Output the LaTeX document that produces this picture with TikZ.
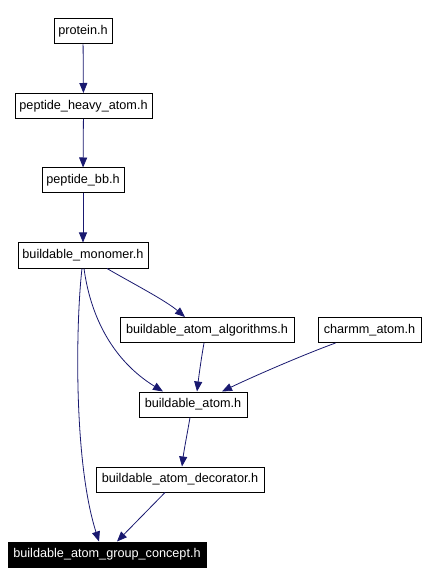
\documentclass[tikz,border=0pt]{standalone}
\usepackage{fontspec}
\setmainfont{Liberation Sans}
\usetikzlibrary{arrows.meta}
\definecolor{edgeblue}{HTML}{191970}
\begin{document}
\begin{tikzpicture}[x=0.75pt,y=-0.75pt,
  box/.style={draw=black,fill=white,line width=0.75pt,inner sep=0pt,minimum height=18.75pt,font=\fontsize{9.5}{11}\selectfont,text=black},
  hl/.style={box,fill=black,text=white},
  edge/.style={draw=edgeblue,line width=0.6pt,-{Triangle[length=7.5pt,width=6pt]}}]
\useasboundingbox (0,0) rectangle (426,584);
\fill[white] (0,0) rectangle (426,584);
\node[box,minimum width=43.5pt] (prot) at (83,31.5) {protein.h};
\node[box,minimum width=102.75pt] (pha) at (83.5,106) {peptide\_heavy\_atom.h};
\node[box,minimum width=61.5pt] (pbb) at (83,180.5) {peptide\_bb.h};
\node[box,minimum width=97.5pt] (mono) at (83,255.5) {buildable\_monomer.h};
\node[box,minimum width=130.5pt] (alg) at (207,330) {buildable\_atom\_algorithms.h};
\node[box,minimum width=77.25pt] (charmm) at (369.5,330) {charmm\_atom.h};
\node[box,minimum width=81pt] (atom) at (193,404.5) {buildable\_atom.h};
\node[box,minimum width=126pt] (deco) at (180,479.5) {buildable\_atom\_decorator.h};
\node[hl,minimum width=148.5pt] (grp) at (107,554.5) {buildable\_atom\_group\_concept.h};
\draw[edge] (prot) -- (pha);
\draw[edge] (pha) -- (pbb);
\draw[edge] (pbb) -- (mono);
\draw[edge] ([xshift=-0.75pt]mono.south) .. controls (76,320) and (73,460) .. ([xshift=-6pt]grp.north);
\draw[edge] ([xshift=0.75pt]mono.south) .. controls (91,320) and (115,362) .. ([xshift=-22.5pt]atom.north);
\draw[edge] ([xshift=18pt]mono.south) .. controls (130,282) and (165,300) .. ([xshift=-16.5pt]alg.north);
\draw[edge] ([xshift=-2.25pt]alg.south) .. controls (201,360) and (199,375) .. ([xshift=3pt]atom.north);
\draw[edge] ([xshift=-25.5pt]charmm.south) .. controls (300,356) and (250,378) .. ([xshift=21.75pt]atom.north);
\draw[edge] ([xshift=-2.25pt]atom.south) .. controls (187,435) and (184,450) .. ([xshift=1.5pt]deco.north);
\draw[edge] ([xshift=-11.25pt]deco.south) -- ([xshift=7.5pt]grp.north);
\end{tikzpicture}
\end{document}
